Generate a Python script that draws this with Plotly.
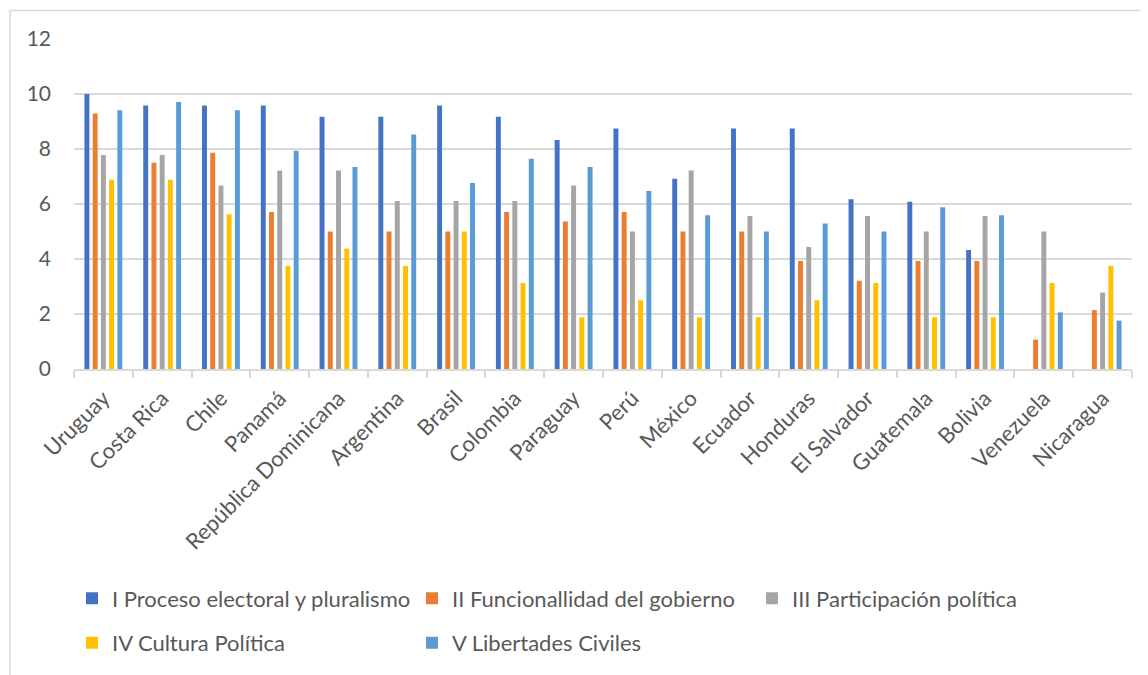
import plotly.graph_objects as go

countries = ["Uruguay", "Costa Rica", "Chile", "Panamá", "República Dominicana", "Argentina",
             "Brasil", "Colombia", "Paraguay", "Perú", "México", "Ecuador", "Honduras",
             "El Salvador", "Guatemala", "Bolivia", "Venezuela", "Nicaragua"]

proceso_electoral = [10.00, 9.58, 9.58, 9.58, 9.17, 9.17, 9.58, 9.17, 8.33, 8.75, 6.92, 8.75, 8.75, 6.17, 6.08, 4.33, 0.00, 0.00]
funcionamiento = [9.29, 7.50, 7.86, 5.71, 5.00, 5.00, 5.00, 5.71, 5.36, 5.71, 5.00, 5.00, 3.93, 3.21, 3.93, 3.93, 1.07, 2.14]
participacion = [7.78, 7.78, 6.67, 7.22, 7.22, 6.11, 6.11, 6.11, 6.67, 5.00, 7.22, 5.56, 4.44, 5.56, 5.00, 5.56, 5.00, 2.78]
cultura = [6.88, 6.88, 5.63, 3.75, 4.38, 3.75, 5.00, 3.13, 1.88, 2.50, 1.88, 1.88, 2.50, 3.13, 1.88, 1.88, 3.13, 3.75]
libertades = [9.41, 9.71, 9.41, 7.94, 7.35, 8.53, 6.76, 7.65, 7.35, 6.47, 5.59, 5.00, 5.29, 5.00, 5.88, 5.59, 2.06, 1.76]

series_names = ["I Proceso electoral y pluralismo", "II Funcionallidad del gobierno",
                "III Participación política", "IV Cultura Política", "V Libertades Civiles"]
series_values = [proceso_electoral, funcionamiento, participacion, cultura, libertades]
colors = ["#4472C4", "#ED7D31", "#A5A5A5", "#FFC000", "#5B9BD5"]
legend_ids = ["legend", "legend", "legend", "legend2", "legend2"]
y_ticks = [0, 2, 4, 6, 8, 10, 12]

FONT = "Lato"
TXT = "#595959"

fig = go.Figure()
for name, vals, col, lg in zip(series_names, series_values, colors, legend_ids):
    fig.add_trace(go.Bar(x=countries, y=vals, name=name, marker=dict(color=col, line=dict(width=0)),
                         legend=lg))

# page body has an 8px margin; figure occupies screen pixels 8..1148 x 8..675
OFF = 8
W, H = 1148 - OFF, 675 - OFF
# desired screen positions
plot_left, plot_right, plot_top, plot_bottom = 74, 1132, 39, 374
ml = plot_left - OFF
mr = (W + OFF) - plot_right
mt = plot_top - OFF
mb = (H + OFF) - plot_bottom
pw = plot_right - plot_left
ph = plot_bottom - plot_top

def px_x(p):
    return (p - plot_left) / pw

def px_y(p):
    return (plot_bottom - p) / ph

fig.update_layout(
    width=W, height=H,
    margin=dict(l=ml, r=mr, t=mt, b=mb, pad=0),
    paper_bgcolor="white", plot_bgcolor="white",
    font=dict(family=FONT, color=TXT, size=21),
    barmode="group", bargap=0.30, bargroupgap=0.40,
    xaxis=dict(type="category", tickangle=-45, tickfont=dict(size=22, color=TXT),
               showline=True, linecolor="#D9D9D9", linewidth=1.5,
               ticks="outside", tickson="boundaries", ticklen=7, tickcolor="#D9D9D9", tickwidth=1.5,
               showgrid=False, ticklabelstandoff=6),
    yaxis=dict(range=[0, 12], tickvals=y_ticks, tickfont=dict(size=21, color=TXT),
               showgrid=True, gridcolor="#D9D9D9", gridwidth=1.5, zeroline=False,
               showline=False, ticks="", ticklabelstandoff=22),
    legend=dict(orientation="h", x=px_x(72), xanchor="left", y=px_y(607), yanchor="middle",
                entrywidth=295, font=dict(size=22, color=TXT), bgcolor="rgba(0,0,0,0)"),
    legend2=dict(orientation="h", x=px_x(72), xanchor="left", y=px_y(652), yanchor="middle",
                 entrywidth=295, font=dict(size=22, color=TXT), bgcolor="rgba(0,0,0,0)"),
    shapes=[dict(type="rect", xref="paper", yref="paper",
                 x0=px_x(10), x1=px_x(1170), y0=px_y(700), y1=px_y(10),
                 line=dict(color="#D9D9D9", width=1.5), fillcolor="rgba(0,0,0,0)", layer="below")],
    showlegend=True,
)

fig.write_html("out.html")
